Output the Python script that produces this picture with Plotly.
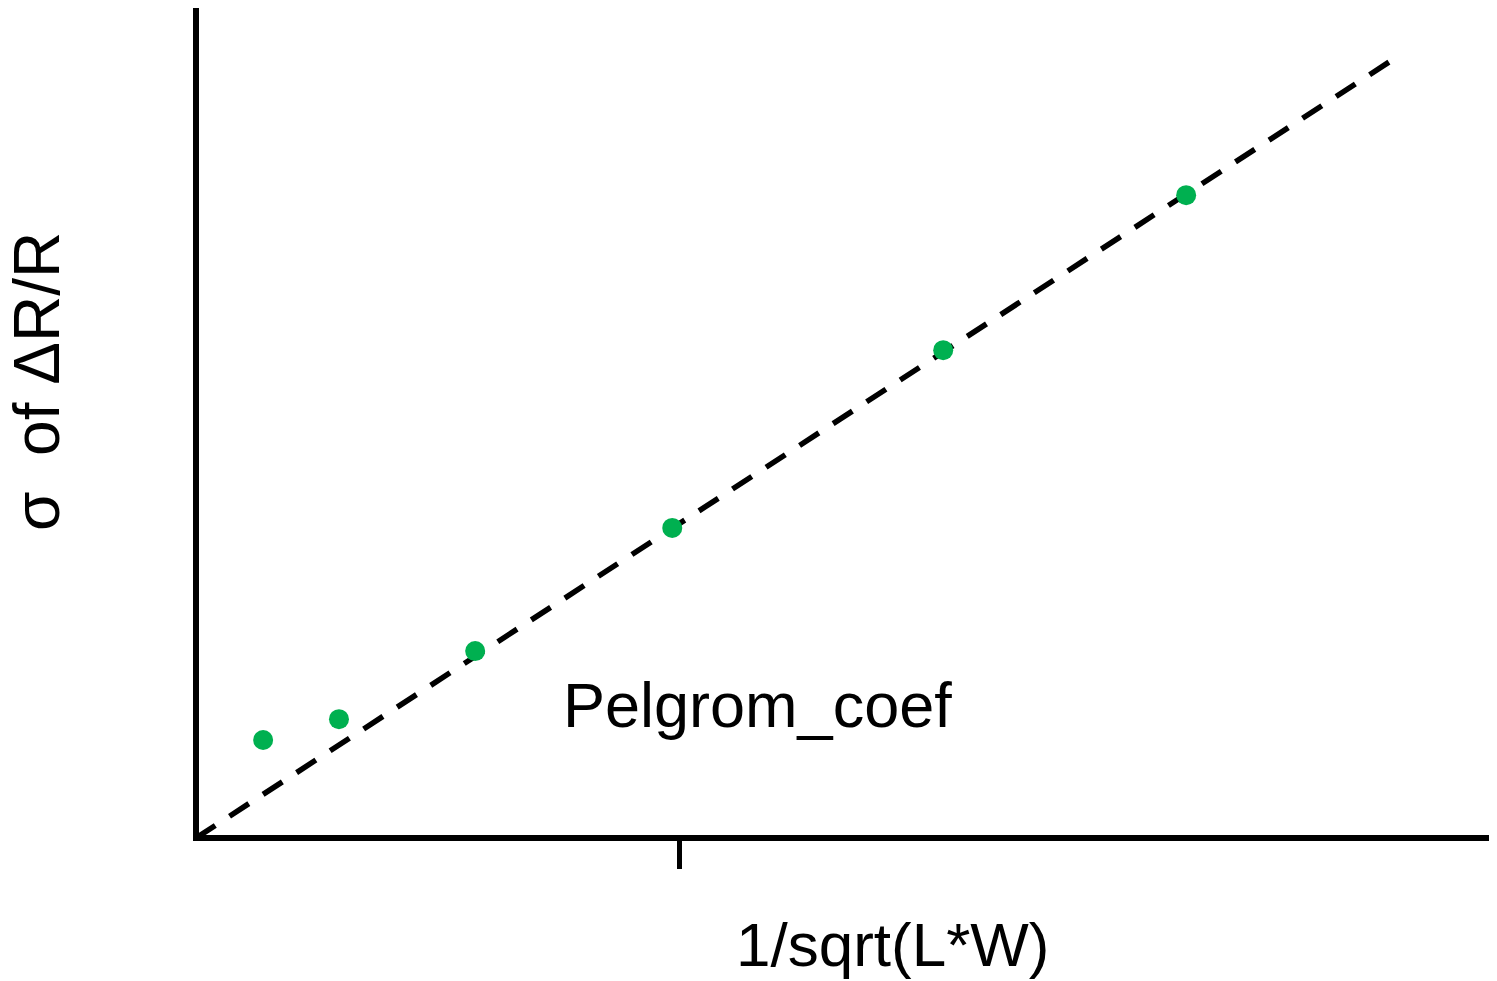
import plotly.graph_objects as go

# data (x in units of 1/sqrt(L*W), y in units of sigma)
x_points = [0.139, 0.296, 0.578, 0.986, 1.547, 2.050]
y_points = [0.203, 0.246, 0.387, 0.642, 1.010, 1.331]
fit_x = [0.0, 2.480]
fit_y = [0.0, 1.613]
tick_vals = [1.0]
x_title = "1/sqrt(L*W)"
y_title = "σ  of ΔR/R"
note_text = "Pelgrom_coef"

# the page body adds an 8px margin; positions below are in screen pixels
OFF = 8
SCR_W, SCR_H = 1497, 981
W, H = SCR_W - OFF, SCR_H - OFF
PL, PR, PT, PB = 199, 1497, 8, 835          # plot area on screen
ox, oy = 196, 838                           # data origin on screen
ppu = 483.0                                 # pixels per data unit

x_range = [(PL - ox) / ppu, (PR - ox) / ppu]
y_range = [(oy - PB) / ppu, (oy - PT) / ppu]
area_w, area_h = PR - PL, PB - PT


def px(sx):
    return (sx - PL) / area_w


def py(sy):
    return (PB - sy) / area_h


font = "Liberation Sans, Arial, sans-serif"

fig = go.Figure()
fig.add_trace(go.Scatter(
    x=fit_x, y=fit_y, mode="lines",
    line=dict(color="black", width=5.5, dash="23px,17px"),
    hoverinfo="skip", showlegend=False))
fig.add_trace(go.Scatter(
    x=x_points, y=y_points, mode="markers",
    marker=dict(color="#00B050", size=20, line=dict(width=0)),
    showlegend=False))

fig.add_annotation(x=px(757), y=py(705), xref="paper", yref="paper", text=note_text,
                   showarrow=False, font=dict(family=font, size=63, color="black"),
                   xanchor="center", yanchor="middle")
fig.add_annotation(x=px(892), y=py(944), xref="paper", yref="paper", text=x_title,
                   showarrow=False, font=dict(family=font, size=62, color="black"),
                   xanchor="center", yanchor="middle")
fig.add_annotation(x=px(37), y=py(382), xref="paper", yref="paper", text=y_title,
                   showarrow=False, textangle=-90,
                   font=dict(family=font, size=64, color="black"),
                   xanchor="center", yanchor="middle")

fig.update_layout(
    width=W, height=H,
    margin=dict(l=PL - OFF, r=SCR_W - PR, t=PT - OFF, b=SCR_H - PB, pad=0),
    plot_bgcolor="white", paper_bgcolor="white",
    xaxis=dict(range=x_range, showgrid=False, zeroline=False, showline=True,
               linecolor="black", linewidth=6, ticks="outside", tickvals=tick_vals,
               ticklen=28, tickwidth=5, tickcolor="black", showticklabels=False,
               fixedrange=True),
    yaxis=dict(range=y_range, showgrid=False, zeroline=False, showline=True,
               linecolor="black", linewidth=6, ticks="", showticklabels=False,
               fixedrange=True),
)

fig.write_html("out.html")
